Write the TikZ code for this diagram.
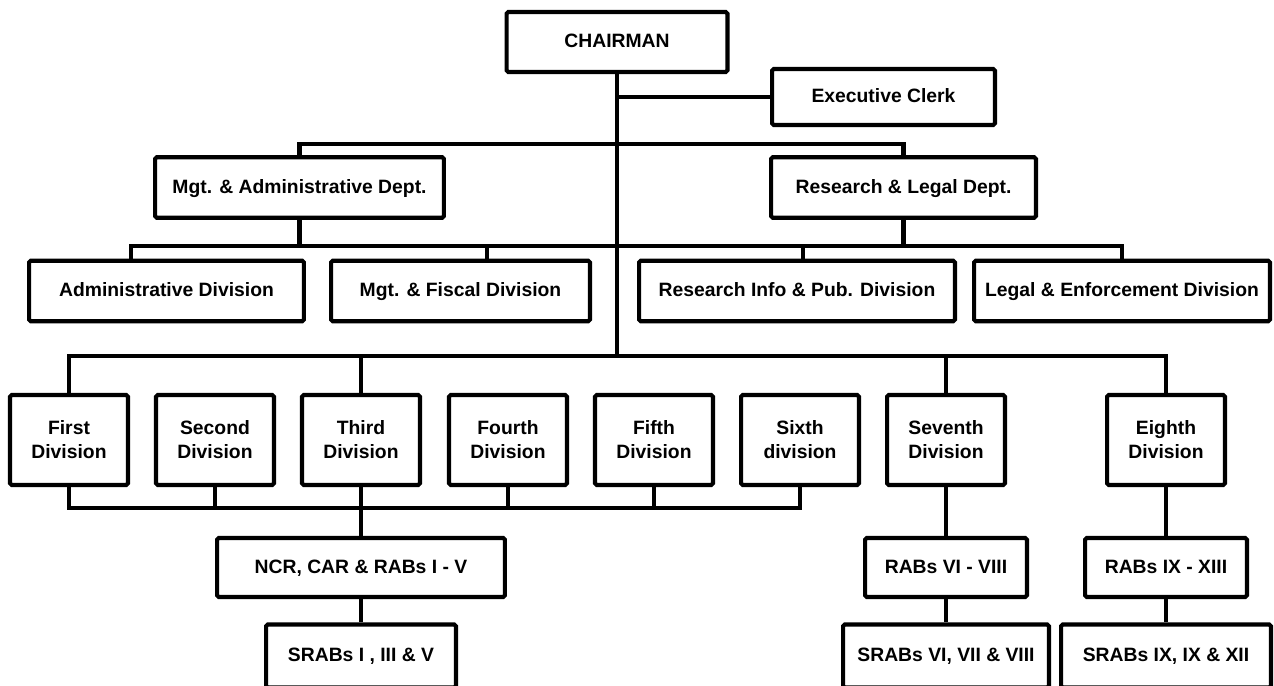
\documentclass[tikz,border=0pt]{standalone}
\usepackage{fontspec}
\setmainfont{Liberation Sans}
\usepackage{tikz}
\usetikzlibrary{positioning, calc}

\begin{document}
\begin{tikzpicture}[x=0.02cm, y=-0.02cm, line width=2.3pt,
        unit/.style={draw, rounded corners=1pt, align=center, inner sep=1pt,
            font=\bfseries\fontsize{11}{13.6}\selectfont},
        line/.style={unit, text height=1.6ex, text depth=0.4ex},
        dept/.style={line, minimum height=1.21cm},
        div/.style={unit, minimum width=2.36cm, minimum height=1.8cm},
        reg/.style={line, minimum height=1.18cm}]
    \useasboundingbox (0,0) rectangle (1274,686);
    % top
    \node[line, minimum width=4.42cm, minimum height=1.2cm] (chair) at (617,42) {CHAIRMAN};
    \node[line, minimum width=4.46cm, minimum height=1.12cm] (clerk) at (883.5,97) {Executive Clerk};
    % departments
    \node[dept, minimum width=5.78cm] (mgtdept) at (299.5,187.5) {Mgt. \& Administrative Dept.};
    \node[dept, minimum width=5.3cm] (resdept) at (903.5,187.5) {Research \& Legal Dept.};
    \node[dept, minimum width=5.5cm] (admdiv) at (166.5,291) {Administrative Division};
    \node[dept, minimum width=5.18cm] (fisdiv) at (460.5,291) {Mgt. \& Fiscal Division};
    \node[dept, minimum width=6.32cm] (infdiv) at (797,291) {Research Info \& Pub. Division};
    \node[dept, minimum width=5.92cm] (legdiv) at (1122,291) {Legal \& Enforcement Division};
    % divisions
    \node[div] (d1) at (69,440) {First\\Division};
    \node[div] (d2) at (215,440) {Second\\Division};
    \node[div] (d3) at (361,440) {Third\\Division};
    \node[div] (d4) at (508,440) {Fourth\\Division};
    \node[div] (d5) at (654,440) {Fifth\\Division};
    \node[div] (d6) at (800,440) {Sixth\\division};
    \node[div] (d7) at (946,440) {Seventh\\Division};
    \node[div] (d8) at (1166,440) {Eighth\\Division};
    % regional boards
    \node[reg, minimum width=5.76cm] (ncr) at (361,567.5) {NCR, CAR \& RABs I - V};
    \node[reg, minimum width=3.24cm] (rabs6) at (946,567.5) {RABs VI - VIII};
    \node[reg, minimum width=3.24cm] (rabs9) at (1166,567.5) {RABs IX - XIII};
    \node[reg, minimum width=3.8cm, minimum height=1.26cm] (srab1) at (361,656) {SRABs I , III \& V};
    \node[reg, minimum width=4.12cm, minimum height=1.26cm] (srab6) at (946,656) {SRABs VI, VII \& VIII};
    \node[reg, minimum width=4.2cm, minimum height=1.26cm] (srab9) at (1166,656) {SRABs IX, IX \& XII};
    % buses
    \coordinate (deptbus) at (617,144);
    \coordinate (unitbus) at (617,246);
    \coordinate (divbus) at (617,356);
    \coordinate (regbus) at (361,508);
    % connectors
    \draw (chair.south) -- (divbus);
    \draw (chair.south |- clerk.west) -- (clerk.west);
    \draw (mgtdept.north) |- (deptbus) -| (resdept.north);
    \draw (mgtdept.south) -- (mgtdept.south |- unitbus);
    \draw (resdept.south) -- (resdept.south |- unitbus);
    \draw ([xshift=-0.71cm]admdiv.north) |- (unitbus) -| (legdiv.north);
    \draw ([xshift=0.53cm]fisdiv.north) -- ([xshift=0.53cm]fisdiv.north |- unitbus);
    \draw ([xshift=0.12cm]infdiv.north) -- ([xshift=0.12cm]infdiv.north |- unitbus);
    \draw (d1.north) |- (divbus) -| (d8.north);
    \foreach \d in {d3,d7} \draw (\d.north) -- (\d.north |- divbus);
    \draw (d1.south) |- (regbus) -| (d6.south);
    \foreach \d in {d2,d4,d5} \draw (\d.south) -- (\d.south |- regbus);
    \draw (d3.south) -- (ncr.north);
    \draw (ncr.south) -- (srab1.north);
    \draw (d7.south) -- (rabs6.north);
    \draw (rabs6.south) -- (srab6.north);
    \draw (d8.south) -- (rabs9.north);
    \draw (rabs9.south) -- (srab9.north);
\end{tikzpicture}
\end{document}
